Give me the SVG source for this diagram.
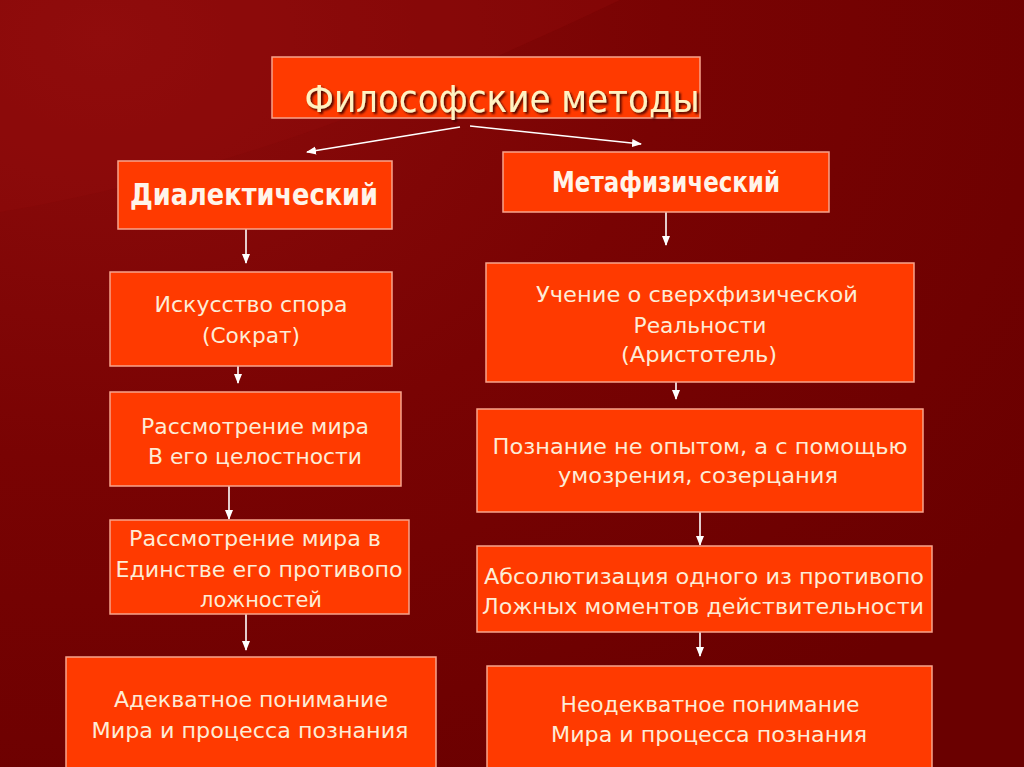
<svg xmlns="http://www.w3.org/2000/svg" width="1024" height="767" viewBox="0 0 1024 767">
  <defs>
    <radialGradient id="bg" cx="0.1" cy="0.05" r="1.1">
      <stop offset="0" stop-color="#8e0c0c"/>
      <stop offset="0.5" stop-color="#790303"/>
      <stop offset="1" stop-color="#6a0000"/>
    </radialGradient>
    <filter id="shadow" x="-10%" y="-30%" width="120%" height="160%">
      <feDropShadow dx="2" dy="2" stdDeviation="0.8" flood-color="#3a0000" flood-opacity="0.9"/>
    </filter>
    <marker id="arr" markerWidth="11" markerHeight="10" refX="9" refY="5" orient="auto" markerUnits="userSpaceOnUse">
      <path d="M0,1 L10,5 L0,9 Z" fill="#ffffff"/>
    </marker>
    <style>
      .box { fill: #ff3a00; stroke: #f7a48c; stroke-width: 1.5; }
      .t { font-family: "DejaVu Sans", "Liberation Sans", sans-serif; font-size: 22px; fill: #fdecd6; text-anchor: middle; }
      .b { font-family: "DejaVu Sans", "Liberation Sans", sans-serif; font-weight: bold; fill: #fff4ea; text-anchor: middle; }
      .title { font-family: "DejaVu Sans", "Liberation Sans", sans-serif; font-size: 37px; fill: #fff2c2; text-anchor: middle; }
      .c { stroke: #ffffff; stroke-width: 1.6; fill: none; marker-end: url(#arr); }
    </style>
  </defs>

  <rect x="0" y="0" width="1024" height="767" fill="url(#bg)"/>
  <path d="M0,0 L620,0 C450,80 250,170 0,212 Z" fill="#940e0e" opacity="0.3"/>

  <g id="connectors">
    <line class="c" x1="460" y1="127" x2="307" y2="152"/>
    <line class="c" x1="470" y1="126" x2="641" y2="144"/>
    <line class="c" x1="246" y1="229" x2="246" y2="263"/>
    <line class="c" x1="666" y1="212" x2="666" y2="245"/>
    <line class="c" x1="238" y1="366" x2="238" y2="383"/>
    <line class="c" x1="676" y1="375" x2="676" y2="399"/>
    <line class="c" x1="229" y1="478" x2="229" y2="519"/>
    <line class="c" x1="700" y1="512" x2="700" y2="545"/>
    <line class="c" x1="246" y1="606" x2="246" y2="650"/>
    <line class="c" x1="700" y1="632" x2="700" y2="656"/>
  </g>

  <g id="title">
    <rect class="box" x="272" y="57" width="428" height="61"/>
    <text class="title" x="502" y="112" textLength="395" lengthAdjust="spacingAndGlyphs" filter="url(#shadow)">Философские методы</text>
  </g>

  <g id="dialectic">
    <rect class="box" x="118" y="161" width="274" height="68"/>
    <text class="b" x="254" y="205" font-size="30" textLength="248" lengthAdjust="spacingAndGlyphs">Диалектический</text>
  </g>

  <g id="metaphysic">
    <rect class="box" x="503" y="152" width="326" height="60"/>
    <text class="b" x="666" y="192" font-size="28" textLength="228" lengthAdjust="spacingAndGlyphs">Метафизический</text>
  </g>

  <g id="d1">
    <rect class="box" x="110" y="272" width="282" height="94"/>
    <text class="t" x="251" y="312" textLength="193" lengthAdjust="spacingAndGlyphs">Искусство спора</text>
    <text class="t" x="251" y="343" textLength="98" lengthAdjust="spacingAndGlyphs">(Сократ)</text>
  </g>

  <g id="m1">
    <rect class="box" x="486" y="263" width="428" height="119"/>
    <text class="t" x="697" y="302" textLength="322" lengthAdjust="spacingAndGlyphs">Учение о сверхфизической</text>
    <text class="t" x="700" y="333" textLength="133" lengthAdjust="spacingAndGlyphs">Реальности</text>
    <text class="t" x="699" y="362" textLength="156" lengthAdjust="spacingAndGlyphs">(Аристотель)</text>
  </g>

  <g id="d2">
    <rect class="box" x="110" y="392" width="291" height="94"/>
    <text class="t" x="255" y="434" textLength="228" lengthAdjust="spacingAndGlyphs">Рассмотрение мира</text>
    <text class="t" x="255" y="464" textLength="214" lengthAdjust="spacingAndGlyphs">В его целостности</text>
  </g>

  <g id="m2">
    <rect class="box" x="477" y="409" width="446" height="103"/>
    <text class="t" x="700" y="454" textLength="415" lengthAdjust="spacingAndGlyphs">Познание не опытом, а с помощью</text>
    <text class="t" x="698" y="483" textLength="280" lengthAdjust="spacingAndGlyphs">умозрения, созерцания</text>
  </g>

  <g id="d3">
    <rect class="box" x="110" y="520" width="299" height="94"/>
    <text class="t" x="255" y="546" textLength="252" lengthAdjust="spacingAndGlyphs">Рассмотрение мира в</text>
    <text class="t" x="259" y="577" textLength="287" lengthAdjust="spacingAndGlyphs">Единстве его противопо</text>
    <text class="t" x="261" y="607" textLength="122" lengthAdjust="spacingAndGlyphs">ложностей</text>
  </g>

  <g id="m3">
    <rect class="box" x="477" y="546" width="455" height="86"/>
    <text class="t" x="704" y="584" textLength="440" lengthAdjust="spacingAndGlyphs">Абсолютизация одного из противопо</text>
    <text class="t" x="703" y="614" textLength="442" lengthAdjust="spacingAndGlyphs">Ложных моментов действительности</text>
  </g>

  <g id="d4">
    <rect class="box" x="66" y="657" width="370" height="120"/>
    <text class="t" x="251" y="707" textLength="274" lengthAdjust="spacingAndGlyphs">Адекватное понимание</text>
    <text class="t" x="250" y="738" textLength="317" lengthAdjust="spacingAndGlyphs">Мира и процесса познания</text>
  </g>

  <g id="m4">
    <rect class="box" x="487" y="666" width="445" height="110"/>
    <text class="t" x="710" y="712" textLength="299" lengthAdjust="spacingAndGlyphs">Неодекватное понимание</text>
    <text class="t" x="709" y="742" textLength="316" lengthAdjust="spacingAndGlyphs">Мира и процесса познания</text>
  </g>
</svg>
